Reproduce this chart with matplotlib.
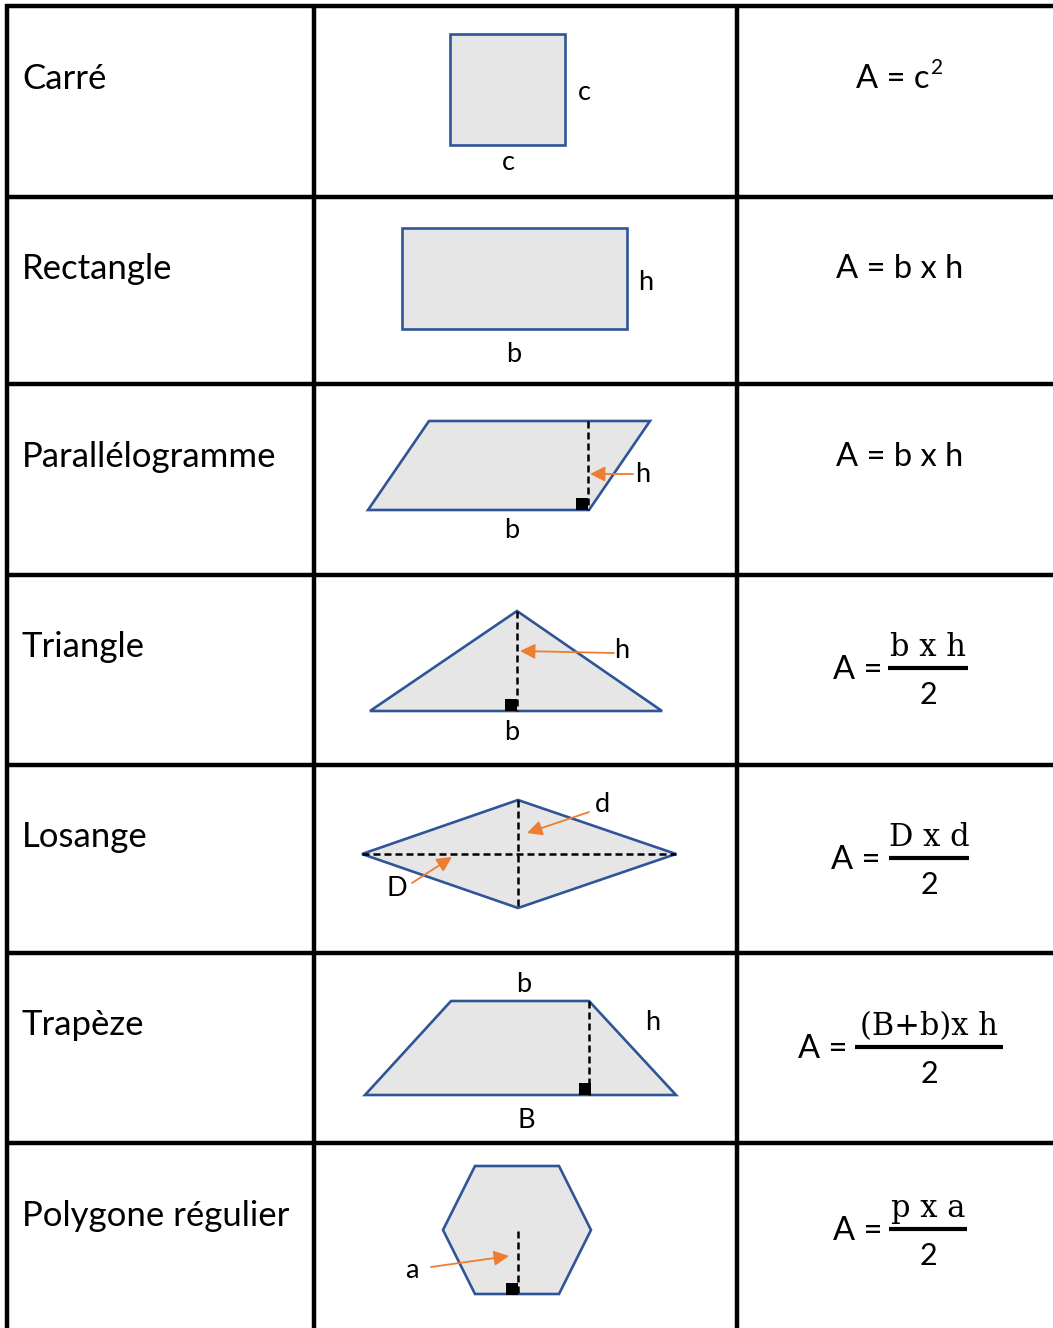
import matplotlib
matplotlib.use("Agg")
import matplotlib.pyplot as plt
from matplotlib.patches import Polygon, Rectangle

# ---------------- data ----------------
shape_names = ["Carré", "Rectangle", "Parallélogramme", "Triangle", "Losange", "Trapèze", "Polygone régulier"]
row_edges = [6, 197, 384, 575, 765, 953, 1143, 1340]
col_edges = [7, 314, 737, 1060]
label_y = [79, 269, 457, 647, 837, 1025, 1216]

simple_formulas = {1: "A = b x h", 2: "A = b x h"}
square_formula = ("A = c", "2")
# fraction formulas
frac_rows = [3, 4, 5, 6]
frac_num = ["b x h", "D x d", "(B+b)x h", "p x a"]
frac_den = ["2", "2", "2", "2"]
frac_ax = [858, 856, 823, 858]
frac_cx = [928, 929, 929, 928]
frac_half = [40, 40, 74, 39]
frac_bar_y = [668, 858, 1047, 1229]

square = [(450, 34), (565, 34), (565, 145), (450, 145)]
rectangle = [(402, 228), (627, 228), (627, 329), (402, 329)]
parallelogram = [(368, 510), (429, 421), (650, 421), (589, 510)]
triangle = [(370, 711), (517, 611), (662, 711)]
losange = [(362, 854), (518, 800), (676, 854), (518, 908)]
trapeze = [(365, 1095), (451, 1001), (589, 1001), (676, 1095)]
hexagon = [(475, 1166), (559, 1166), (591, 1230), (559, 1294), (475, 1294), (443, 1230)]
shapes = [square, rectangle, parallelogram, triangle, losange, trapeze, hexagon]

# dashed segments (x0, y0, x1, y1)
dashes = [(588, 421, 588, 510), (517, 611, 517, 711), (362, 854, 676, 854),
          (518, 800, 518, 908), (589, 1001, 589, 1095), (518, 1231, 518, 1294)]
# right-angle markers (x of right edge, y of bottom edge)
right_marks = [(588, 510), (517, 711), (591, 1095), (518, 1295)]
# orange arrows (tail -> head)
arrows = [((633, 474), (590, 474)), ((614, 653), (520, 651)), ((589, 812), (527, 833)),
          ((412, 883), (452, 857)), ((431, 1267), (509, 1256))]
# side letters (text, x, y)
letters = [("c", 584, 92), ("c", 508, 162), ("h", 646, 283), ("b", 514, 354),
           ("h", 643, 475), ("b", 512, 530), ("h", 622, 651), ("b", 512, 732),
           ("d", 602, 804), ("D", 397, 889), ("b", 524, 985), ("h", 653, 1022),
           ("B", 526, 1120), ("a", 412, 1270)]

FILL = "#e6e6e6"
EDGE = "#2f5597"
ORANGE = "#ed7d31"
SANS = ["Lato", "DejaVu Sans"]
SERIF = ["DejaVu Serif"]

# ---------------- figure ----------------
W, H = 1053, 1328
fig = plt.figure(figsize=(W / 100, H / 100), dpi=100)
ax = fig.add_axes([0, 0, 1, 1])
ax.set_xlim(0, W)
ax.set_ylim(H, 0)
ax.axis("off")

# grid
for y in row_edges[:-1]:
    ax.plot([col_edges[0] - 2, W + 5], [y, y], color="black", lw=3.2, solid_capstyle="butt")
for x in col_edges[:-1]:
    ax.plot([x, x], [row_edges[0] - 2, H + 5], color="black", lw=3.2, solid_capstyle="butt")

# labels
for name, y in zip(shape_names, label_y):
    ax.text(22, y, name, fontsize=25, family=SANS, ha="left", va="center")

# shapes
for pts in shapes:
    ax.add_patch(Polygon(pts, closed=True, facecolor=FILL, edgecolor=EDGE, lw=1.9, joinstyle="miter"))

for x0, y0, x1, y1 in dashes:
    ax.plot([x0, x1], [y0, y1], color="black", lw=1.8, ls=(0, (2.8, 1.6)))

for xr, yb in right_marks:
    ax.add_patch(Rectangle((xr - 12, yb - 12), 12, 12, facecolor="black", edgecolor="none"))

for (tx, ty), (hx, hy) in arrows:
    ax.annotate("", xy=(hx, hy), xytext=(tx, ty),
                arrowprops=dict(arrowstyle="-|>,head_length=0.9,head_width=0.45",
                                color=ORANGE, lw=1.3, shrinkA=0, shrinkB=0))

for t, x, y in letters:
    ax.text(x, y, t, fontsize=19.5, family=SANS, ha="center", va="center")

# simple formulas
ax.text(930, label_y[0], square_formula[0], fontsize=23.5, family=SANS, ha="right", va="center")
ax.text(931, label_y[0] - 11, square_formula[1], fontsize=15, family=SANS, ha="left", va="center")
for r, f in simple_formulas.items():
    ax.text(900, label_y[r], f, fontsize=23.5, family=SANS, ha="center", va="center")

# fraction formulas
for r, num, den, axx, cx, hw, by in zip(frac_rows, frac_num, frac_den, frac_ax, frac_cx, frac_half, frac_bar_y):
    ax.text(axx, by + 2, "A =", fontsize=23.5, family=SANS, ha="center", va="center")
    ax.plot([cx - hw, cx + hw], [by, by], color="black", lw=3, solid_capstyle="butt")
    ax.text(cx, by - 5, num, fontsize=22, family=SERIF, ha="center", va="bottom")
    ax.text(cx, by + 27, den, fontsize=22, family=SANS, ha="center", va="center")

fig.savefig("out.png", dpi=100)
